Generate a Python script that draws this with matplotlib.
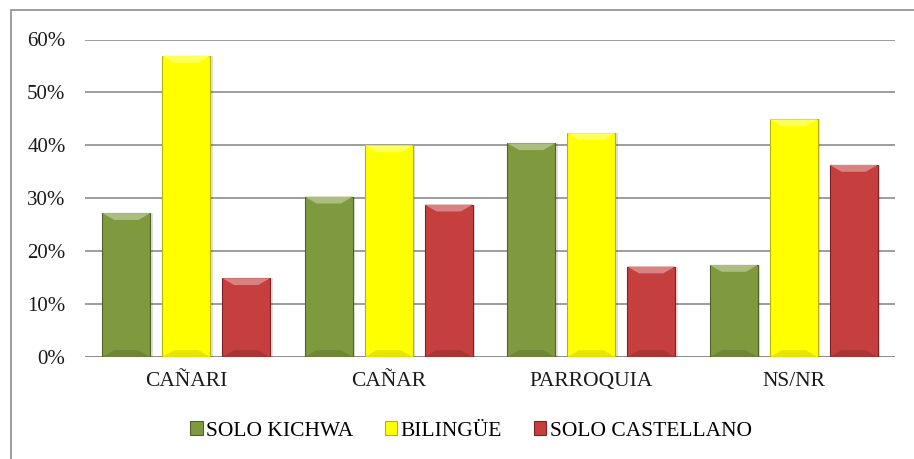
import matplotlib
matplotlib.use("Agg")
import matplotlib.pyplot as plt
import matplotlib.colors as mc
import numpy as np
from matplotlib.patches import Polygon, Rectangle

categories = ["CAÑARI", "CAÑAR", "PARROQUIA", "NS/NR"]
series_names = ["SOLO KICHWA", "BILINGÜE", "SOLO CASTELLANO"]
solo_kichwa = [27.2, 30.3, 40.4, 17.4]
bilingue = [56.9, 40.0, 42.3, 44.9]
solo_castellano = [14.9, 28.8, 17.1, 36.3]
colors = ["#7F9A3E", "#FFFF00", "#C43F3E"]
edge_colors = ["#4F6325", "#B5B500", "#7E2322"]
yticks = [0, 10, 20, 30, 40, 50, 60]

plt.rcParams['font.family'] = ['Liberation Serif', 'DejaVu Serif']

fig = plt.figure(figsize=(9.14, 4.59), dpi=100)
ax = fig.add_axes([85/914, 1-357/459, 810/914, (357-39.5)/459])

# outer chart border (left and top visible)
fig.patches.append(Rectangle((11/914, -0.05), 1.2, 1-10/459+0.05, transform=fig.transFigure,
                             fill=False, edgecolor="#8C8C8C", linewidth=1.2))

x = np.arange(len(categories))
width = 0.237
offsets = [-0.296, 0, 0.296]
data = [solo_kichwa, bilingue, solo_castellano]

def lighten(c, f):
    r, g, b = mc.to_rgb(c)
    return (r + (1-r)*f, g + (1-g)*f, b + (1-b)*f)

for vals, off, col, ec, name in zip(data, offsets, colors, edge_colors, series_names):
    bars = ax.bar(x + off, vals, width, color=col, edgecolor=ec, linewidth=0.8,
                  label=name, zorder=3)
    for b in bars:
        bx, by = b.get_x(), b.get_y()
        bw, bh = b.get_width(), b.get_height()
        dy = 1.3
        dx = bw * 0.25
        top = Polygon([(bx, by+bh), (bx+bw, by+bh), (bx+bw-dx, by+bh-dy), (bx+dx, by+bh-dy)],
                      closed=True, facecolor=lighten(col, 0.35), edgecolor='none', zorder=4)
        ax.add_patch(top)
        bot = Polygon([(bx, by), (bx+bw, by), (bx+bw-dx, by+dy), (bx+dx, by+dy)],
                      closed=True, facecolor=ec, alpha=0.35, edgecolor='none', zorder=4)
        ax.add_patch(bot)
        sh = Rectangle((bx+bw, by), 0.012, bh, facecolor="#000000", alpha=0.12,
                       edgecolor='none', zorder=2)
        ax.add_patch(sh)

ax.set_xlim(-0.5, len(categories)-0.5)
ax.set_ylim(0, 60)
ax.set_yticks(yticks)
ax.set_yticklabels([f"{t}%" for t in yticks], fontsize=15, color="#1a1a1a")
ax.set_xticks(x)
ax.set_xticklabels(categories, fontsize=15.5, color="#1a1a1a")
ax.tick_params(axis='x', length=0, pad=11)
ax.tick_params(axis='y', length=0, pad=14)
ax.grid(axis='y', color="#8C8C8C", linewidth=1.2, zorder=0)
for s in ax.spines.values():
    s.set_visible(False)
ax.axhline(0, color="#8C8C8C", linewidth=1.2, zorder=1)

leg = fig.legend(loc='center', bbox_to_anchor=(471/914, 1-431/459), ncol=3, frameon=False,
                 fontsize=15.5, handlelength=0.56, handleheight=0.56, handletextpad=0.15,
                 columnspacing=1.5)

fig.savefig("out.png", dpi=100)
